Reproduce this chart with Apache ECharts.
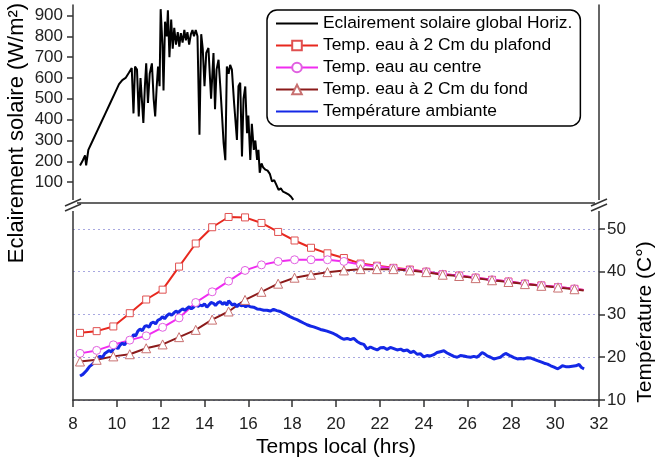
<!DOCTYPE html>
<html><head><meta charset="utf-8">
<script src="https://cdn.jsdelivr.net/npm/echarts@6/dist/echarts.min.js"></script>
<style>html,body{margin:0;padding:0;background:#fff}#c{width:656px;height:459px}</style>
</head><body><div id="c"></div>
<script>
// ---- data ----
const solarTicks = [100, 200, 300, 400, 500, 600, 700, 800, 900];
const tempTicks = [10, 20, 30, 40, 50];
const solar = [
 [8.32,180],[8.45,205],[8.55,228],[8.60,180],[8.70,255],[8.90,300],[9.10,345],[9.30,390],[9.50,435],[9.70,480],
 [9.90,525],[10.10,570],[10.25,590],[10.40,600],[10.55,625],[10.68,648],[10.76,430],[10.83,655],[10.92,640],[11.00,415],
 [11.08,600],[11.21,384],[11.28,560],[11.34,670],[11.42,480],[11.50,620],[11.60,670],[11.68,500],[11.75,415],[11.82,560],
 [11.88,655],[11.95,560],[12.00,930],[12.08,760],[12.13,540],[12.20,870],[12.28,800],[12.33,925],[12.40,700],[12.48,880],
 [12.55,740],[12.62,840],[12.70,760],[12.78,820],[12.85,750],[12.92,815],[13.00,770],[13.08,830],[13.15,780],[13.22,820],
 [13.30,760],[13.38,810],[13.45,830],[13.52,800],[13.60,830],[13.68,800],[13.77,327],[13.85,810],[13.92,740],[14.00,560],
 [14.08,720],[14.18,744],[14.25,600],[14.30,500],[14.41,720],[14.48,450],[14.55,640],[14.64,687],[14.72,560],[14.80,420],
 [14.87,290],[14.95,205],[15.02,655],[15.10,620],[15.17,663],[15.25,640],[15.35,480],[15.48,303],[15.55,560],[15.63,577],
 [15.71,223],[15.78,500],[15.86,559],[15.94,335],[16.00,420],[16.09,207],[16.16,380],[16.25,255],[16.32,300],[16.40,207],
 [16.46,255],[16.52,145],[16.60,190],[16.68,170],[16.78,160],[16.88,155],[16.98,140],[17.08,103],[17.18,110],[17.28,87],
 [17.38,63],[17.48,70],[17.58,55],[17.68,50],[17.76,48],[17.85,40],[17.95,30],[18.05,15]
];
const tempTimes = [8.32,9.08,9.84,10.59,11.34,12.09,12.84,13.60,14.35,15.10,15.85,16.60,17.36,18.11,18.86,19.61,
 20.36,21.12,21.87,22.62,23.37,24.12,24.87,25.62,26.37,27.12,27.87,28.62,29.37,30.13,30.88,31.30];
const tPlafond = [25.7,26.1,27.2,30.3,33.5,35.8,41.2,46.6,50.4,52.8,52.7,51.4,49.3,47.3,45.6,44.3,
 43.2,41.9,41.4,40.9,40.5,40.0,39.4,39.1,38.6,38.1,37.7,37.2,36.8,36.4,36.0,35.7];
const tCentre = [20.9,21.6,22.9,24.0,25.0,27.0,29.2,32.8,35.3,37.8,40.3,41.6,42.4,42.8,42.8,42.8,
 42.4,41.7,41.2,40.8,40.4,40.0,39.4,39.1,38.6,38.1,37.7,37.2,36.8,36.4,36.0,35.7];
const tFond = [19.0,19.4,20.2,20.7,22.1,23.0,24.7,26.4,28.8,30.7,33.4,35.3,37.2,38.6,39.3,39.9,
 40.3,40.6,40.6,40.6,40.3,39.9,39.3,39.0,38.5,38.0,37.6,37.1,36.7,36.3,35.9,35.6];
const tAmbiante = [
 [8.32,15.6],[8.45,16.0],[8.62,16.9],[8.75,17.8],[8.85,18.2],[9.00,19.0],[9.10,19.8],[9.23,20.2],[9.35,20.0],[9.45,20.9],
 [9.54,20.7],[9.65,21.6],[9.75,21.2],[9.84,21.9],[9.95,22.4],[10.05,22.0],[10.14,22.8],[10.25,23.3],[10.35,22.9],[10.45,23.6],
 [10.55,24.4],[10.65,24.0],[10.76,25.3],[10.86,25.0],[10.96,26.1],[11.06,26.6],[11.16,26.2],[11.27,27.2],[11.37,27.4],[11.47,27.0],
 [11.57,28.0],[11.67,28.2],[11.77,27.8],[11.88,28.7],[11.98,28.9],[12.08,29.5],[12.18,29.0],[12.28,29.7],[12.40,30.2],[12.50,29.8],
 [12.59,30.3],[12.70,30.8],[12.80,30.4],[12.89,30.9],[13.00,31.3],[13.10,31.0],[13.20,31.4],[13.30,31.8],[13.40,31.3],[13.50,31.7],
 [13.60,32.3],[13.70,31.9],[13.80,32.2],[13.90,32.0],[14.00,32.5],[14.11,31.7],[14.20,32.2],[14.30,32.8],[14.41,32.6],[14.50,32.1],
 [14.60,32.7],[14.72,33.0],[14.82,32.4],[14.92,32.8],[15.02,32.2],[15.10,33.2],[15.17,33.0],[15.27,32.2],[15.38,32.5],[15.48,31.8],
 [15.58,32.4],[15.68,32.0],[15.78,32.2],[15.88,31.8],[15.98,32.1],[16.09,31.8],[16.24,31.7],[16.40,31.3],[16.55,31.2],[16.70,31.0],
 [16.85,31.0],[17.00,30.8],[17.15,31.2],[17.30,30.9],[17.46,30.7],[17.60,30.3],[17.76,29.9],[17.90,29.5],[18.07,29.1],[18.22,28.8],
 [18.37,28.4],[18.52,28.0],[18.68,27.6],[18.83,27.3],[18.98,27.1],[19.14,26.8],[19.29,26.5],[19.44,26.3],[19.59,26.1],[19.75,25.8],
 [19.90,25.5],[20.05,25.1],[20.20,24.6],[20.35,24.2],[20.51,24.4],[20.66,24.1],[20.81,24.4],[20.96,23.7],[21.12,23.2],[21.27,23.0],
 [21.42,21.9],[21.57,22.4],[21.73,22.0],[21.88,21.7],[22.03,22.2],[22.18,22.3],[22.33,21.8],[22.48,22.3],[22.64,22.0],[22.79,21.7],
 [22.95,21.9],[23.09,21.5],[23.25,21.7],[23.40,21.1],[23.55,21.4],[23.70,20.7],[23.86,20.8],[24.00,20.1],[24.15,20.4],[24.31,20.3],
 [24.46,20.6],[24.61,21.1],[24.76,21.3],[24.92,21.5],[25.07,21.0],[25.22,20.6],[25.38,20.2],[25.53,20.0],[25.68,20.4],[25.83,20.3],
 [25.98,20.1],[26.14,20.0],[26.29,20.2],[26.44,20.0],[26.55,20.5],[26.67,21.1],[26.78,20.8],[26.90,20.3],[27.05,20.0],[27.20,19.6],
 [27.35,19.8],[27.50,20.0],[27.62,20.5],[27.74,20.9],[27.85,20.6],[27.96,20.3],[28.12,19.9],[28.28,19.6],[28.43,19.7],[28.58,19.6],
 [28.74,19.9],[28.89,19.8],[29.04,19.5],[29.19,19.2],[29.35,18.9],[29.50,18.6],[29.65,18.4],[29.80,18.0],[29.95,17.7],[30.10,17.3],
 [30.22,17.6],[30.33,18.0],[30.48,17.8],[30.63,17.8],[30.78,17.9],[30.94,18.0],[31.09,18.3],[31.20,17.6],[31.32,17.3]
];
const names = ['Eclairement solaire global Horiz.','Temp. eau à 2 Cm du plafond','Temp. eau au centre','Temp. eau à 2 Cm du fond','Température ambiante'];

// ---- build ----
const FONT = 'Liberation Sans, Arial, sans-serif';
const AX = {lineStyle:{color:'#333', width:1.5}};
function pts(vals){ return tempTimes.map((t,i)=> i===tempTimes.length-1 ? {value:[t,vals[i]], symbol:'none'} : [t, vals[i]]); }
const chart = echarts.init(document.getElementById('c'), null, {renderer:'canvas'});
const G0 = {left:73, right:57, top:5, height:198};
const G1 = {left:73, right:57, top:205, height:198.3};
function brk(x, y){
  return [
    {type:'rect', shape:{x:x-4, y:y-5, width:8, height:11}, style:{fill:'#fff'}, z:100},
    {type:'line', shape:{x1:x-8, y1:y+1, x2:x+8, y2:y-6}, style:{stroke:'#333', lineWidth:1.5}, z:101},
    {type:'line', shape:{x1:x-8, y1:y+6, x2:x+8, y2:y-1}, style:{stroke:'#333', lineWidth:1.5}, z:101}
  ];
}
chart.setOption({
  animation:false,
  textStyle:{fontFamily:FONT},
  grid:[G0, G1],
  xAxis:[
    {gridIndex:0, type:'value', position:'top', min:8, max:32, axisLine:AX, axisTick:{show:false}, axisLabel:{show:false}, splitLine:{show:false}},
    {gridIndex:1, type:'value', position:'bottom', min:8, max:32, interval:2, axisLine:AX,
     axisTick:{show:true, length:7, lineStyle:{color:'#333', width:1.5}},
     axisLabel:{fontSize:17, color:'#222', margin:16, fontFamily:FONT}, splitLine:{show:false},
     name:'Temps local (hrs)', nameLocation:'middle', nameGap:37, nameTextStyle:{fontSize:21, color:'#000', fontFamily:FONT}}
  ],
  yAxis:[
    {gridIndex:0, type:'value', position:'left', min:0, max:950, axisLine:{show:true, ...AX},
     axisTick:{show:true, length:6, customValues:solarTicks, lineStyle:{color:'#333', width:1.5}},
     axisLabel:{fontSize:17, color:'#222', margin:10, customValues:solarTicks, fontFamily:FONT}, splitLine:{show:false}},
    {gridIndex:0, type:'value', position:'right', min:0, max:950, axisLine:{show:true, ...AX}, axisTick:{show:false}, axisLabel:{show:false}, splitLine:{show:false}},
    {gridIndex:1, type:'value', position:'right', min:10, max:55.6, axisLine:{show:true, ...AX},
     axisTick:{show:true, length:6, customValues:tempTicks, lineStyle:{color:'#333', width:1.5}},
     axisLabel:{fontSize:17, color:'#222', margin:8, customValues:tempTicks, fontFamily:FONT},
     splitLine:{show:true, lineStyle:{color:'#a8a8e0', type:[2,3], width:1}}},
    {gridIndex:1, type:'value', position:'left', min:10, max:55.6, axisLine:{show:true, ...AX}, axisTick:{show:false}, axisLabel:{show:false}, splitLine:{show:false}}
  ],
  legend:{
    orient:'vertical', left:267, top:10, itemWidth:42, itemHeight:12, itemGap:5,
    padding:[5,8,6,8], borderColor:'#000', borderWidth:1.5, borderRadius:10, backgroundColor:'#fff',
    textStyle:{fontSize:17.4, color:'#000', fontFamily:FONT, lineHeight:17},
    data:[
      {name:names[0], itemStyle:{opacity:0}},
      names[1], names[2], names[3],
      {name:names[4], itemStyle:{opacity:0}}
    ]
  },
  series:[
    {name:names[0], type:'line', xAxisIndex:0, yAxisIndex:0, data:solar, symbol:'none', lineStyle:{color:'#000', width:2}, itemStyle:{color:'#000'}},
    {name:names[1], type:'line', xAxisIndex:1, yAxisIndex:2, data:pts(tPlafond), symbol:'rect', symbolSize:7,
     lineStyle:{color:'#e8281e', width:2}, itemStyle:{color:'#fff', borderColor:'#e05050', borderWidth:1}},
    {name:names[2], type:'line', xAxisIndex:1, yAxisIndex:2, data:pts(tCentre), symbol:'circle', symbolSize:8,
     lineStyle:{color:'#f02cf0', width:2}, itemStyle:{color:'#fff', borderColor:'#e060e0', borderWidth:1}},
    {name:names[3], type:'line', xAxisIndex:1, yAxisIndex:2, data:pts(tFond), symbol:'triangle', symbolSize:9,
     lineStyle:{color:'#8b1a1a', width:2}, itemStyle:{color:'#fff', borderColor:'#c87070', borderWidth:1}},
    {name:names[4], type:'line', xAxisIndex:1, yAxisIndex:2, data:tAmbiante, symbol:'none',
     lineStyle:{color:'#1428e6', width:3}, itemStyle:{color:'#1428e6'}}
  ],
  graphic:[
    {type:'text', x:17, y:133, rotation:Math.PI/2, style:{text:'Eclairement solaire (W/m²)', font:'22px '+FONT, fill:'#000', align:'center', verticalAlign:'middle'}},
    {type:'text', x:645, y:322, rotation:Math.PI/2, style:{text:'Température (C°)', font:'21px '+FONT, fill:'#000', align:'center', verticalAlign:'middle'}},
    ...brk(73, 205), ...brk(599, 205)
  ]
});
</script></body></html>
